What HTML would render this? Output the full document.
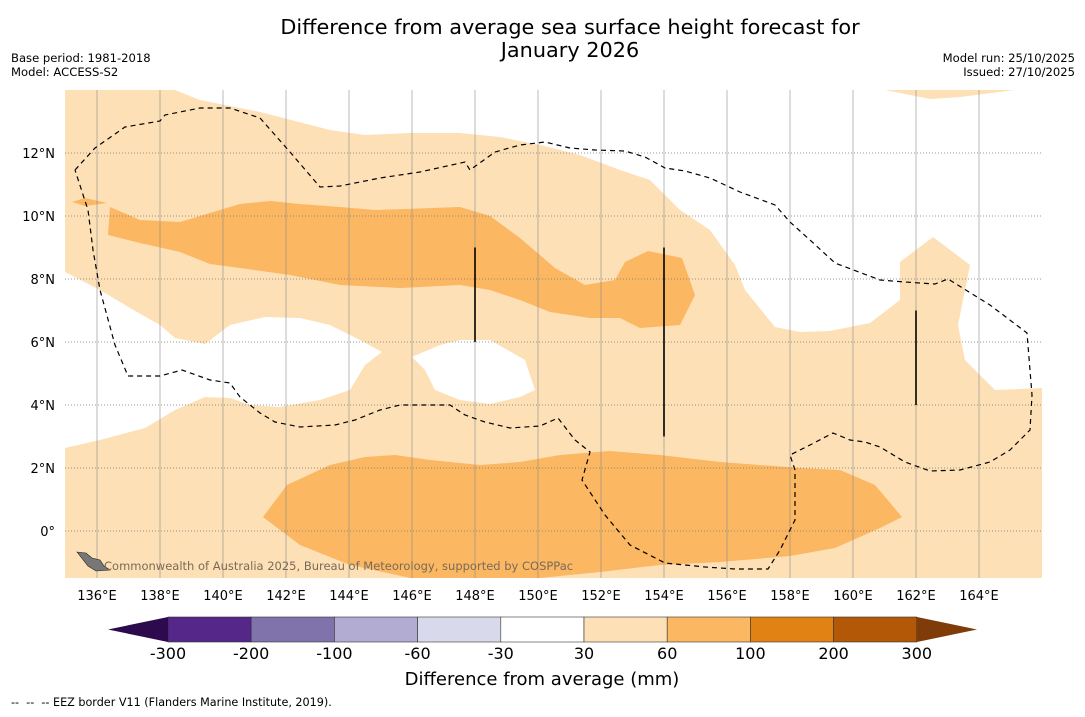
<!DOCTYPE html>
<html><head><meta charset="utf-8">
<style>
body{margin:0;background:#fff;font-family:"DejaVu Sans","Liberation Sans",sans-serif;}
svg text{font-family:"DejaVu Sans","Liberation Sans",sans-serif;white-space:pre;}
</style></head>
<body>
<svg id="chart" width="1085" height="713" viewBox="0 0 1085 713" xmlns="http://www.w3.org/2000/svg">
<rect width="1085" height="713" fill="#fff"/>
<text x="570" y="34" font-size="20.8" text-anchor="middle">Difference from average sea surface height forecast for</text>
<text x="570" y="57" font-size="20.8" text-anchor="middle">January 2026</text>
<text x="11" y="62" font-size="11.6">Base period: 1981-2018</text>
<text x="11" y="76" font-size="11.6">Model: ACCESS-S2</text>
<text x="1075" y="62" font-size="11.6" text-anchor="end">Model run: 25/10/2025</text>
<text x="1075" y="76" font-size="11.6" text-anchor="end">Issued: 27/10/2025</text>
<defs><clipPath id="mapclip"><rect x="65" y="90" width="977" height="488"/></clipPath></defs>
<g id="map" clip-path="url(#mapclip)"></g>
<g id="axes"></g>
<g id="cbar"></g>
<text x="542" y="685" font-size="18" text-anchor="middle">Difference from average (mm)</text>
<text x="11" y="706" font-size="11.2">--  --  -- EEZ border V11 (Flanders Marine Institute, 2019).</text>
</svg>
<script>
const lonTicks=[136,138,140,142,144,146,148,150,152,154,156,158,160,162,164];
const latTicks=[0,2,4,6,8,10,12];
const cbarLevels=[-300,-200,-100,-60,-30,30,60,100,200,300];
const cbarColors=['#542788','#8073ac','#b2abd2','#d8daeb','#ffffff','#fde0b6','#fbb762','#e08214','#b35806'];
const extLow='#2d0a4e', extHigh='#7f3b08';
const whiteRegions=[
[[175,90],[200,100],[260,112],[330,130],[365,135],[410,133],[460,133],[500,137],[540,145],[580,155],[620,170],[650,180],[680,210],[710,230],[735,265],[745,290],[775,327],[800,332],[830,331],[870,323],[900,300],[900,262],[933,237],[970,265],[958,325],[965,360],[995,390],[1042,388],[1042,90],[1015,90],[960,97],[930,99],[885,90]],
[[65,272],[100,290],[130,308],[160,325],[175,338],[205,344],[230,325],[265,317],[300,318],[330,325],[360,340],[382,352],[365,365],[350,390],[320,400],[280,407],[250,405],[230,398],[205,397],[175,410],[145,428],[100,440],[65,448]],
[[412,357],[440,345],[460,340],[490,340],[525,360],[535,390],[520,397],[490,404],[460,400],[435,390],[425,370]]];
const orangeRegions=[
[[110,207],[140,220],[180,222],[210,213],[240,204],[270,201],[300,204],[340,207],[375,210],[405,209],[460,207],[490,216],[520,238],[555,268],[585,285],[615,280],[625,262],[648,251],[682,258],[695,295],[680,325],[640,328],[620,318],[590,318],[550,312],[520,300],[490,290],[460,285],[400,288],[340,285],[290,275],[240,268],[210,264],[180,252],[140,243],[108,235]],
[[72,202],[85,198],[107,203],[85,206]],
[[263,517],[287,485],[330,465],[365,457],[395,455],[430,460],[480,465],[520,462],[560,455],[610,451],[660,455],[720,462],[800,468],[840,470],[875,485],[902,517],[880,528],[835,548],[790,556],[720,562],[660,565],[600,572],[540,578],[420,580],[350,565],[300,545]]];
const eez=[[75,170],[95,148],[125,127],[160,121],[165,115],[200,108],[230,108],[260,118],[290,152],[320,187],[340,186],[380,178],[420,172],[465,162],[470,170],[495,152],[520,145],[545,142],[570,148],[595,150],[625,151],[645,157],[665,168],[685,171],[710,178],[740,192],[775,205],[790,222],[810,240],[835,263],[880,280],[905,282],[935,284],[948,279],[990,305],[1027,333],[1032,395],[1030,430],[1010,450],[990,462],[960,470],[930,471],[905,462],[880,447],[865,442],[850,440],[833,433],[810,445],[790,455],[795,470],[795,520],[780,550],[768,569],[735,569],[705,567],[665,563],[630,545],[605,515],[582,480],[590,452],[575,440],[558,418],[540,426],[510,428],[485,422],[465,415],[450,405],[400,405],[380,410],[355,420],[335,425],[300,427],[275,422],[260,413],[240,397],[230,383],[210,380],[182,370],[160,376],[128,376],[115,345],[100,290],[93,250],[88,210],[75,170]];
const boundaryLines=[[148,9,6],[154,9,3],[162,7,4]];
const NS='http://www.w3.org/2000/svg';
const xLon=l=>97+(l-136)*31.5, yLat=l=>531-l*31.5;
function mk(t,a,p){const e=document.createElementNS(NS,t);for(const k in a)e.setAttribute(k,a[k]);p.appendChild(e);return e;}
const map=document.getElementById('map'), axes=document.getElementById('axes'), cb=document.getElementById('cbar');
const bg=mk('rect',{x:65,y:90,width:977,height:488,fill:'#fde0b6'},map);


whiteRegions.forEach(r=>{const p=mk('polygon',{points:r.map(q=>q.join(',')).join(' '),fill:'#ffffff'},map);

});
orangeRegions.forEach(r=>{const p=mk('polygon',{points:r.map(q=>q.join(',')).join(' '),fill:'#fbb762'},map);

});
lonTicks.forEach(l=>{const g=mk('line',{x1:xLon(l),x2:xLon(l),y1:90,y2:578,stroke:'#8a8a8a',"stroke-width":0.6},map);


const t=mk('text',{x:xLon(l),y:600,"font-size":13,"text-anchor":"middle"},axes);t.textContent=l+'°E';

});
latTicks.forEach(l=>{const g=mk('line',{x1:65,x2:1042,y1:yLat(l),y2:yLat(l),stroke:'#777',"stroke-width":0.8,"stroke-dasharray":"1,2"},map);


const t=mk('text',{x:55,y:yLat(l)+5,"font-size":13,"text-anchor":"end"},axes);t.textContent=l===0?'0°':l+'°N';

});
const e=mk('polyline',{points:eez.map(q=>q.join(',')).join(' '),fill:'none',stroke:'#000',"stroke-width":1.2,"stroke-dasharray":"5,4"},map);


boundaryLines.forEach(b=>{const l=mk('line',{x1:xLon(b[0]),x2:xLon(b[0]),y1:yLat(b[1]),y2:yLat(b[2]),stroke:'#000',"stroke-width":1.6},map);

});
const isl=mk('polygon',{points:'77,552 86,553 92,558 100,560 104,566 110,570 96,571 88,566',fill:'#777',stroke:'#222',"stroke-width":0.6},map);


const cr=mk('text',{x:104,y:570,"font-size":11.5,fill:'#7a6a58'},map);cr.textContent='Commonwealth of Australia 2025, Bureau of Meteorology, supported by COSPPac';


const cx=v=>168+cbarLevels.indexOf(v)*83.2, cy0=617, cy1=642;
for(let i=0;i<cbarColors.length;i++){const r=mk('rect',{x:cx(cbarLevels[i]),y:cy0,width:83.2,height:cy1-cy0,fill:cbarColors[i],stroke:'#333',"stroke-width":0.6},cb);

}
const tl=mk('polygon',{points:`108,629.5 168,${cy0} 168,${cy1}`,fill:extLow},cb);


const tr=mk('polygon',{points:`977,629.5 917,${cy0} 917,${cy1}`,fill:extHigh},cb);


cbarLevels.forEach(v=>{const t=mk('text',{x:cx(v),y:659,"font-size":16,"text-anchor":"middle"},cb);t.textContent=v;

});
</script>
</body></html>
